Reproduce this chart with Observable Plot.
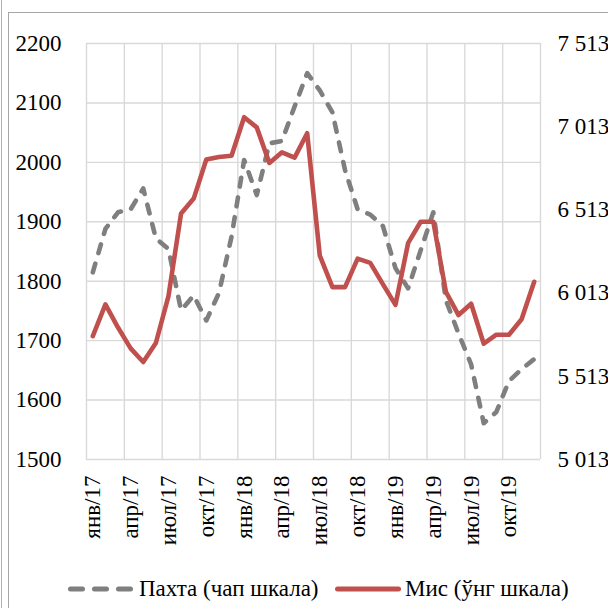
<!DOCTYPE html>
<html><head><meta charset="utf-8">
<script src="https://cdn.jsdelivr.net/npm/d3@7"></script>
<script src="https://cdn.jsdelivr.net/npm/@observablehq/plot@0.6"></script>
<style>
body{margin:0;background:#fff;font-family:"Liberation Serif","Times New Roman",serif;}
#wrap{position:relative;width:608px;height:608px;overflow:hidden;background:#fff;}
#edge{position:absolute;left:1px;top:0;width:0;height:608px;border-left:1.5px solid #b0b0b0;}
#frame{position:absolute;left:8px;top:12px;width:700px;height:700px;border:1.5px solid #a6a6a6;}
#chart{position:absolute;left:0;top:0;}
.leg{position:absolute;top:574px;font-size:23px;line-height:30px;color:#000;white-space:nowrap;}
.leg svg{position:absolute;top:8px;}
</style></head>
<body>
<div id="wrap">
<div id="edge"></div>
<div id="frame"></div>
<div id="chart"></div>
<div id="legend"></div>
</div>
<script>
// Monthly categories Jan 2017 .. Dec 2019
const months = ["янв/17","фев/17","мар/17","апр/17","май/17","июн/17","июл/17","авг/17","сен/17","окт/17","ноя/17","дек/17",
"янв/18","фев/18","мар/18","апр/18","май/18","июн/18","июл/18","авг/18","сен/18","окт/18","ноя/18","дек/18",
"янв/19","фев/19","мар/19","апр/19","май/19","июн/19","июл/19","авг/19","сен/19","окт/19","ноя/19","дек/19"];
// Пахта (left scale)
const cotton = [1815,1888,1916,1921,1956,1872,1854,1751,1776,1734,1780,1875,
2004,1945,2032,2036,2094,2150,2121,2084,1987,1921,1912,1893,
1822,1788,1852,1916,1768,1712,1660,1561,1580,1632,1652,1669];
// Мис (right scale)
const copper = [5754,5945,5806,5681,5599,5713,5995,6492,6581,6816,6831,6838,
7070,7009,6795,6859,6827,6974,6238,6049,6049,6220,6195,6067,
5942,6313,6442,6442,6020,5881,5949,5709,5763,5763,5856,6081];
const leftTicks = [1500,1600,1700,1800,1900,2000,2100,2200];
const rightTicks = [5013,5513,6013,6513,7013,7513];
const xTickLabels = ["янв/17","апр/17","июл/17","окт/17","янв/18","апр/18","июл/18","окт/18","янв/19","апр/19","июл/19","окт/19"];

const toLeft = d3.scaleLinear().domain([5013,7513]).range([1500,2200]);
const cot = months.map((m,i)=>({x:i+0.5, y:cotton[i]}));
const cop = months.map((m,i)=>({x:i+0.5, y:toLeft(copper[i])}));
const xLabelPos = xTickLabels.map(l=>months.indexOf(l)+0.5);
const labelAt = new Map(xLabelPos.map((p,k)=>[p,xTickLabels[k]]));
const xGrid = d3.range(0, months.length+1, 3);
const fmtR = v => d3.format(",")(v).replace(",", " ");

const plot = Plot.plot({
  width:608, height:566,
  marginLeft:86, marginRight:68, marginTop:43, marginBottom:107,
  style:{fontFamily:'"Liberation Serif","Times New Roman",serif', fontSize:"23px", color:"#000", background:"transparent", overflow:"visible"},
  x:{type:"linear", domain:[0, months.length]},
  y:{domain:[1500,2200]},
  marks:[
    Plot.ruleX(xGrid, {stroke:"#d9d9d9", strokeWidth:1.4}),
    Plot.ruleY(leftTicks, {stroke:"#d9d9d9", strokeWidth:1.4}),
    Plot.axisY(leftTicks, {anchor:"left", tickSize:0, tickPadding:25, label:null, fill:"#000", tickFormat: d => String(d)}),
    Plot.axisY(rightTicks.map(v=>toLeft(v)), {anchor:"right", tickSize:0, tickPadding:17, label:null, fill:"#000",
      tickFormat: v => fmtR(Math.round(toLeft.invert(v)))}),
    Plot.axisX(xLabelPos, {anchor:"bottom", tickSize:0, tickPadding:16, tickRotate:-90, label:null, fill:"#000",
      tickFormat: d => labelAt.get(d)}),
    Plot.line(cot, {x:"x", y:"y", stroke:"#7f7f7f", strokeWidth:4.6, strokeDasharray:"9,11", strokeLinecap:"round", strokeLinejoin:"round"}),
    Plot.line(cop, {x:"x", y:"y", stroke:"#c0504d", strokeWidth:4.6, strokeLinecap:"round", strokeLinejoin:"round"})
  ]
});
document.getElementById("chart").appendChild(plot);

const legend = document.getElementById("legend");
legend.innerHTML = `
<div class="leg" style="left:68px;width:270px;">
 <svg width="66" height="14" style="left:0"><line x1="2.5" y1="7" x2="62.5" y2="7" stroke="#7f7f7f" stroke-width="5" stroke-linecap="round" stroke-dasharray="12,12"/></svg>
 <span style="position:absolute;left:71px;">Пахта (чап шкала)</span></div>
<div class="leg" style="left:335px;width:270px;">
 <svg width="68" height="14" style="left:0"><line x1="2.5" y1="7" x2="63.5" y2="7" stroke="#c0504d" stroke-width="5" stroke-linecap="round"/></svg>
 <span style="position:absolute;left:70px;">Мис (ўнг шкала)</span></div>`;
</script>
</body></html>
